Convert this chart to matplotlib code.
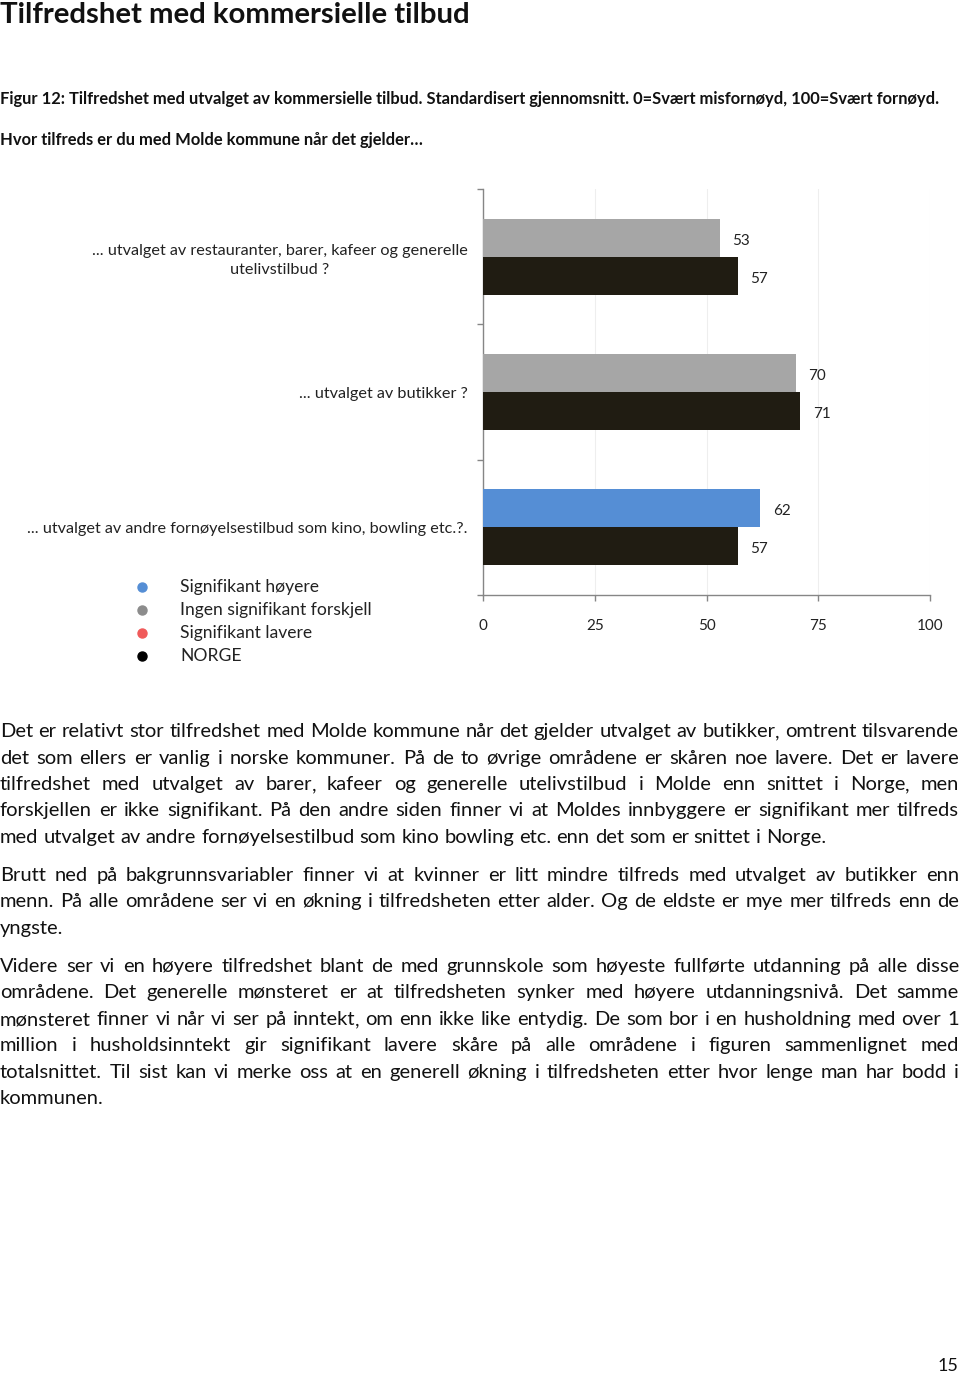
import matplotlib
matplotlib.use("Agg")
import matplotlib.pyplot as plt
from matplotlib.lines import Line2D
import numpy as np

# ---------------- data ----------------
categories = [
    "... utvalget av restauranter, barer, kafeer og generelle\nutelivstilbud ?",
    "... utvalget av butikker ?",
    "... utvalget av andre fornøyelsestilbud som kino, bowling etc.?.",
]
molde_values = [53, 70, 62]
norge_values = [57, 71, 57]
molde_significance = ["none", "none", "higher"]
x_ticks = [0, 25, 50, 75, 100]
x_tick_labels = ["0", "25", "50", "75", "100"]

legend_labels = ["Signifikant høyere", "Ingen signifikant forskjell", "Signifikant lavere", "NORGE"]
legend_colors = ["#558ED5", "#8C8C8C", "#F05A5A", "#000000"]

bar_colors = {"higher": "#558ED5", "none": "#A6A6A6", "lower": "#F05A5A"}
norge_color = "#201C12"

title = "Tilfredshet med kommersielle tilbud"
caption = "Figur 12: Tilfredshet med utvalget av kommersielle tilbud. Standardisert gjennomsnitt. 0=Svært misfornøyd, 100=Svært fornøyd."
question = "Hvor tilfreds er du med Molde kommune når det gjelder…"

paragraphs = [
    [
        "Det er relativt stor tilfredshet med Molde kommune når det gjelder utvalget av butikker, omtrent tilsvarende",
        "det som ellers er vanlig i norske kommuner. På de to øvrige områdene er skåren noe lavere. Det er lavere",
        "tilfredshet med utvalget av barer, kafeer og generelle utelivstilbud i Molde enn snittet i Norge, men",
        "forskjellen er ikke signifikant. På den andre siden finner vi at Moldes innbyggere er signifikant mer tilfreds",
        "med utvalget av andre fornøyelsestilbud som kino bowling etc. enn det som er snittet i Norge.",
    ],
    [
        "Brutt ned på bakgrunnsvariabler finner vi at kvinner er litt mindre tilfreds med utvalget av butikker enn",
        "menn. På alle områdene ser vi en økning i tilfredsheten etter alder. Og de eldste er mye mer tilfreds enn de",
        "yngste.",
    ],
    [
        "Videre ser vi en høyere tilfredshet blant de med grunnskole som høyeste fullførte utdanning på alle disse",
        "områdene. Det generelle mønsteret er at tilfredsheten synker med høyere utdanningsnivå. Det samme",
        "mønsteret finner vi når vi ser på inntekt, om enn ikke like entydig. De som bor i en husholdning med over 1",
        "million i husholdsinntekt gir signifikant lavere skåre på alle områdene i figuren sammenlignet med",
        "totalsnittet. Til sist kan vi merke oss at en generell økning i tilfredsheten etter hvor lenge man har bodd i",
        "kommunen.",
    ],
]
paragraph_line_centers = [
    [730, 757, 783, 809, 836],
    [874, 900, 927],
    [965, 991, 1018, 1044, 1071, 1097],
]
page_number = "15"

# ---------------- setup ----------------
FONT = "Lato"
plt.rcParams["font.family"] = FONT
W, H = 960, 1376
fig = plt.figure(figsize=(W / 100, H / 100), dpi=100)
fig.patch.set_facecolor("white")
renderer = fig.canvas.get_renderer()
TXT = "#111111"


def fx(px):
    return px / W


def fy(py):
    return 1 - py / H


def measure(s, size=10, weight="normal"):
    t = fig.text(0, 0, s, fontsize=size, weight=weight)
    w = t.get_window_extent(renderer).width
    t.remove()
    return w


def fit_size(s, target, weight="normal"):
    return 10 * target / measure(s, 10, weight)


# ---------------- header texts ----------------
fig.text(fx(0), fy(15), title, fontsize=fit_size(title, 473, "bold"), weight="bold",
         va="center", ha="left", color=TXT)
fig.text(fx(0), fy(99), caption, fontsize=fit_size(caption, 944, "bold"), weight="bold",
         va="center", ha="left", color=TXT)
fig.text(fx(0), fy(140), question, fontsize=fit_size(question, 426, "bold"), weight="bold",
         va="center", ha="left", color=TXT)

# ---------------- chart ----------------
ax_left, ax_right, ax_top, ax_bottom = 483, 930, 189, 595
ax = fig.add_axes([fx(ax_left), fy(ax_bottom), fx(ax_right - ax_left), (ax_bottom - ax_top) / H])

y = np.arange(len(categories))
bh = 0.28
m_colors = [bar_colors[s] for s in molde_significance]
ax.barh(y - bh / 2, molde_values, height=bh, color=m_colors, zorder=3)
ax.barh(y + bh / 2, norge_values, height=bh, color=norge_color, zorder=3)

val_size = 11
for yi, v in zip(y, molde_values):
    ax.annotate(str(v), (v, yi - bh / 2), xytext=(9, -1), textcoords="offset points",
                va="center_baseline", ha="left", fontsize=val_size, color="#222222")
for yi, v in zip(y, norge_values):
    ax.annotate(str(v), (v, yi + bh / 2), xytext=(9, -1), textcoords="offset points",
                va="center_baseline", ha="left", fontsize=val_size, color="#222222")

ax.set_xlim(0, 100)
ax.set_ylim(len(categories) - 0.5, -0.5)
ax.set_xticks(x_ticks)
ax.set_xticklabels(x_tick_labels, fontsize=11, color="#222222")
ax.tick_params(axis="x", direction="out", length=4, width=1, color="#868686", pad=13)

# category labels as major y ticks (no tick marks); boundaries as minor ticks
cat_size = fit_size("... utvalget av butikker ?", 169)
ax.set_yticks(y)
ax.set_yticklabels(categories, fontsize=cat_size, color="#222222")
for t in ax.get_yticklabels():
    t.set_multialignment("center")
    t.set_linespacing(1.45)
ax.tick_params(axis="y", which="major", length=0, pad=11)
ax.set_yticks(np.arange(-0.5, len(categories), 1.0), minor=True)
ax.tick_params(axis="y", which="minor", direction="out", length=4, width=1, color="#868686")

ax.grid(axis="x", color="#EEEEEE", linewidth=0.8, zorder=0)
ax.grid(axis="y", visible=False)
for sp in ["top", "right"]:
    ax.spines[sp].set_visible(False)
for sp in ["left", "bottom"]:
    ax.spines[sp].set_color("#868686")
    ax.spines[sp].set_linewidth(1)
ax.set_facecolor("white")

# ---------------- legend ----------------
leg_size = fit_size("Ingen signifikant forskjell", 191)
for i, (lab, col) in enumerate(zip(legend_labels, legend_colors)):
    yy = 587 + i * 23
    fig.add_artist(Line2D([fx(142)], [fy(yy)], marker="o", markersize=6.5, color=col,
                          linestyle="none", transform=fig.transFigure))
    fig.text(fx(180), fy(yy), lab, fontsize=leg_size, va="center", ha="left", color="#222222")

# ---------------- body text (justified) ----------------
body_size = fit_size(paragraphs[0][-1], 826)
space_w = measure("a a", body_size) - measure("aa", body_size)


def justified_line(center_y, line, x0, x1, last):
    words = line.split(" ")
    base = fy(center_y + 7)
    items = []  # (main text, optional trailing comma text, total width)
    for w in words:
        if w.endswith(",") and len(w) > 1:
            t = fig.text(0, base, w[:-1], fontsize=body_size, va="baseline", ha="left",
                         color=TXT, family=FONT)
            c = fig.text(0, base, ",", fontsize=body_size, va="baseline", ha="left",
                         color=TXT, family=FONT)
            wt = t.get_window_extent(renderer).width
            wc = measure(w, body_size) - wt
            items.append((t, c, wt, wt + wc))
        else:
            t = fig.text(0, base, w, fontsize=body_size, va="baseline", ha="left",
                         color=TXT, family=FONT)
            wt = t.get_window_extent(renderer).width
            items.append((t, None, wt, wt))
    total = sum(it[3] for it in items)
    if last or len(words) == 1:
        gap = space_w
    else:
        gap = ((x1 - x0) - total) / (len(words) - 1)
    x = x0
    for t, c, wt, wtot in items:
        t.set_x(fx(x))
        if c is not None:
            c.set_x(fx(x + wt))
        x += wtot + gap


for para, centers in zip(paragraphs, paragraph_line_centers):
    for i, (line, cy) in enumerate(zip(para, centers)):
        justified_line(cy, line, 0, 959, last=(i == len(para) - 1))

fig.text(fx(958), fy(1366), page_number, fontsize=13, ha="right", va="center", color=TXT)

fig.savefig("out.png", dpi=100, facecolor="white")
